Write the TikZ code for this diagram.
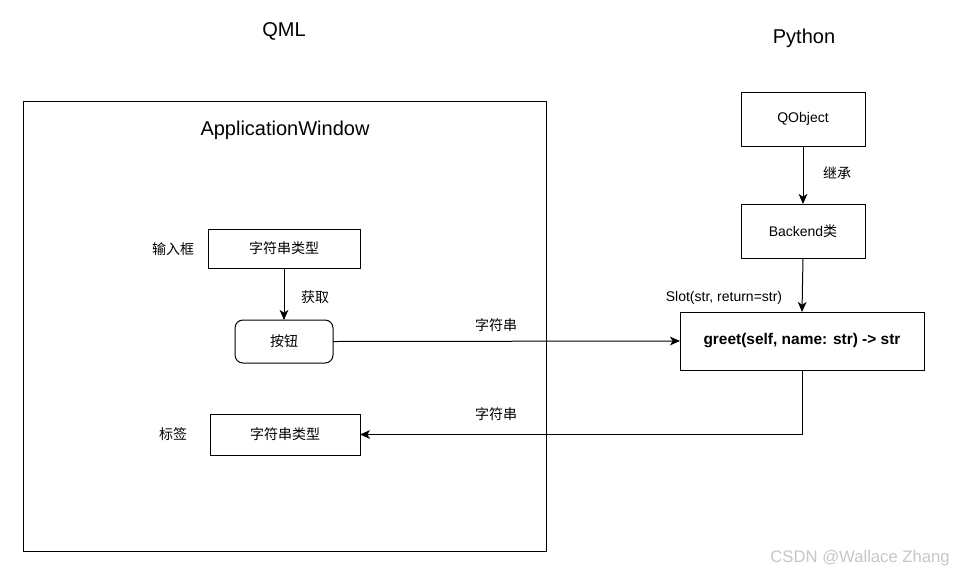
\documentclass[tikz,border=0pt]{standalone}
\usepackage{fontspec}
\setmainfont{Liberation Sans}
\newfontfamily\cjk{Noto Sans CJK SC}
\usetikzlibrary{arrows.meta}
\begin{document}
\begin{tikzpicture}[x=0.75pt,y=-0.75pt,
  box/.style={draw, line width=0.75pt, inner sep=0pt, outer sep=0pt, font=\fontsize{10.5}{12}\selectfont},
  lbl/.style={inner sep=0pt, font=\fontsize{10.5}{12}\selectfont},
  title/.style={inner sep=0pt, font=\fontsize{15}{18}\selectfont},
  conn/.style={line width=0.75pt, -{Stealth[length=7.5pt,width=6.5pt,inset=2pt]}}]
\useasboundingbox (0,0) rectangle (954,576);
\fill[white] (0,0) rectangle (954,576);
% titles
\node[title] (qml) at (284,31) {QML};
\node[title] (py) at (804,38) {Python};
% application window
\node[box, minimum width=392.25pt, minimum height=337.5pt] (win) at (284.5,326) {};
\node[title] (aw) at (285,130) {ApplicationWindow};
% QML side
\node[box, minimum width=114pt, minimum height=29.25pt] (in) at (284,248.5) {\cjk 字符串类型};
\node[lbl] (inlab) at (173,249) {\cjk 输入框};
\node[box, rounded corners=6pt, minimum width=73.5pt, minimum height=32.25pt] (btn) at (284,341.5) {\cjk 按钮};
\node[lbl] (get) at (315,297) {\cjk 获取};
\draw[conn] (in.south) -- (btn.north);
\node[box, minimum width=112.5pt, minimum height=30.75pt] (out) at (285,434.5) {\cjk 字符串类型};
\node[lbl] (outlab) at (173,434) {\cjk 标签};
% Python side
\node[box, minimum width=93pt, minimum height=40.5pt] (qobj) at (803,119) {QObject};
\node[lbl] (inh) at (837,173) {\cjk 继承};
\node[box, minimum width=93pt, minimum height=40.5pt] (be) at (803,231) {Backend{\cjk 类}};
\draw[conn] (qobj.south) -- (be.north);
\node[lbl] (slot) at (724,298) {Slot(str, return=str)};
\node[box, minimum width=183pt, minimum height=43.5pt, font=\fontsize{11.6}{14}\selectfont\bfseries] (greet) at (802,341) {greet(self, name: str) -> str};
\draw[conn] (be.south) -- (greet.north);
\draw[conn] (btn.east) -- (greet.west);
\node[lbl] (s1) at (496,325) {\cjk 字符串};
\draw[conn] (greet.south) |- (out.east);
\node[lbl] (s2) at (496,414) {\cjk 字符串};
% watermark
\node[inner sep=0pt, text=black!22, font=\fontsize{12.5}{15}\selectfont, anchor=east] (wm) at (950,558) {CSDN @Wallace Zhang};
\end{tikzpicture}
\end{document}
